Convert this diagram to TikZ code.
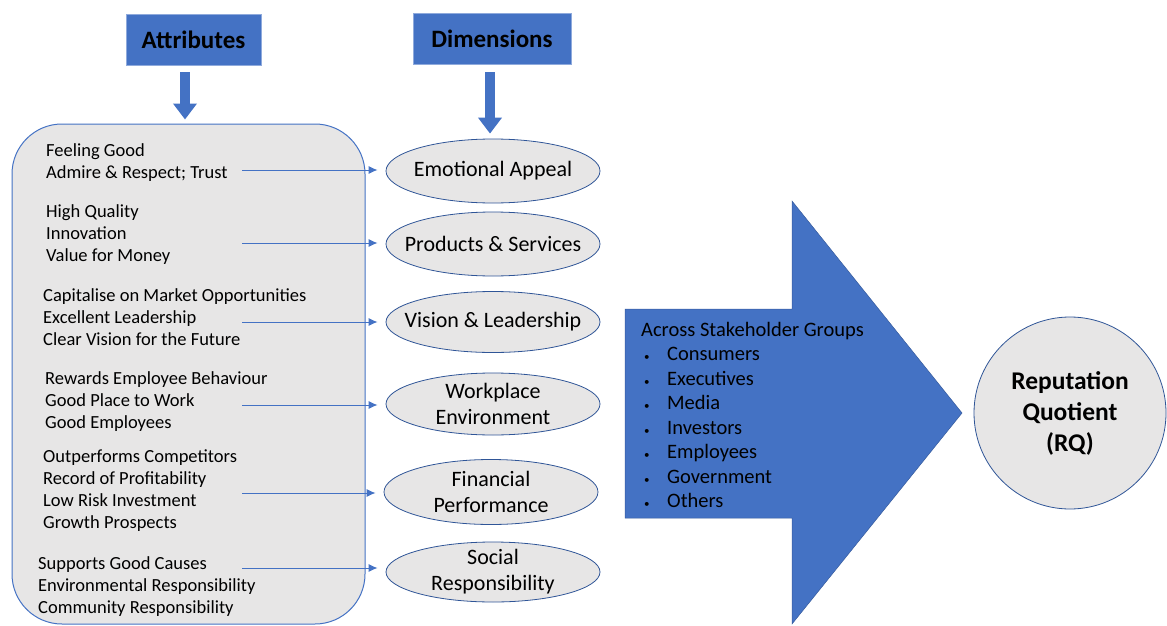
\documentclass[tikz,border=0pt]{standalone}
\usepackage{fontspec}
\setmainfont{Carlito}
\usetikzlibrary{shapes.geometric,arrows.meta}
\definecolor{blu}{HTML}{4472C4}
\definecolor{bdr}{HTML}{2F5597}
\definecolor{gry}{HTML}{E7E6E6}
\newcommand{\smallbul}{\makebox[26pt][l]{\hspace{3pt}{\fontsize{11}{11}\selectfont\textbullet}}}
\begin{document}
\begin{tikzpicture}[x=1pt,y=-1pt,
  hdr/.style={fill=blu, draw=blu!60!white, line width=0.8pt, minimum width=135pt, minimum height=51pt, inner sep=0pt, font=\fontsize{25}{28}\selectfont\bfseries},
  attrbox/.style={draw=blu, fill=gry, rounded corners=50pt, line width=1pt, minimum width=353pt, minimum height=500pt, inner sep=0pt},
  attrtxt/.style={anchor=base west, align=left, inner sep=0pt, font=\fontsize{18.5}{22}\selectfont},
  dimell/.style={ellipse, draw=bdr, fill=gry, line width=0.8pt, minimum width=214pt, minimum height=64pt, inner xsep=-40pt, inner ysep=-10pt, align=center, font=\fontsize{22}{26}\selectfont},
  conn/.style={draw=blu, line width=1pt, shorten >=8pt, -{Latex[length=9pt,width=8pt]}},
  blockarr/.style={draw=blu, line width=10pt, -{Triangle[width=23pt,length=16pt]}},
]
\useasboundingbox (0,0) rectangle (1167,626);

% headers
\node[hdr] (hA) at (193.5,39.5) {Attributes};
\node[hdr, minimum width=158pt] (hD) at (492,38.5) {Dimensions};

% attributes box
\node[attrbox] (attr) at (188.5,374) {};

% block arrows from headers
\draw[blockarr, shorten <=7pt, shorten >=4pt] (hA.south -| 185,0) -- (attr.north -| 185,0);
\node[dimell] (e1) at (493,171) {Emotional Appeal};
\draw[blockarr, shorten <=8pt, shorten >=5pt] (hD.south -| 490,0) -- (e1.north -| 490,0);

% attribute texts (anchored at the baseline of the last line)
\node[attrtxt] (t1) at (46,178) {Feeling Good\\Admire \& Respect; Trust};
\node[attrtxt] (t2) at (46,261) {High Quality\\Innovation\\Value for Money};
\node[attrtxt] (t3) at (43,345) {Capitalise on Market Opportunities\\Excellent Leadership\\Clear Vision for the Future};
\node[attrtxt] (t4) at (45,428) {Rewards Employee Behaviour\\Good Place to Work\\Good Employees};
\node[attrtxt] (t5) at (43,528) {Outperforms Competitors\\Record of Profitability\\Low Risk Investment\\Growth Prospects};
\node[attrtxt] (t6) at (38,613) {Supports Good Causes\\Environmental Responsibility\\Community Responsibility};

% dimension ellipses
\node[dimell] (e2) at (493,244) {Products \& Services};
\node[dimell, minimum height=61pt] (e3) at (493,322) {Vision \& Leadership};
\node[dimell, minimum height=62pt] (e4) at (493,404) {Workplace\\Environment};
\node[dimell, minimum height=65pt] (e5) at (491,492) {Financial\\Performance};
\node[dimell, minimum height=60pt] (e6) at (493,572) {Social\\Responsibility};

% connectors
\coordinate (c1) at (242,170);
\coordinate (c2) at (242,243);
\coordinate (c3) at (242,322);
\coordinate (c4) at (242,405);
\coordinate (c5) at (242,493);
\coordinate (c6) at (242,568);
\draw[conn] (c1) -- (c1 -| e1.west);
\draw[conn] (c2) -- (c2 -| e2.west);
\draw[conn] (c3) -- (c3 -| e3.west);
\draw[conn] (c4) -- (c4 -| e4.west);
\draw[conn] (c5) -- (c5 -| e5.west);
\draw[conn] (c6) -- (c6 -| e6.west);

% big arrow
\path[fill=blu, draw=blu!80!black, line width=0.5pt] (625,309) -- (792,309) -- (792,201) -- (962,413) -- (792,624) -- (792,518) -- (625,518) -- cycle;
\node[anchor=base west, align=left, inner sep=0pt, font=\fontsize{20.5}{24.5}\selectfont] (grp) at (641,507.5)
  {Across Stakeholder Groups\\
   \smallbul Consumers\\
   \smallbul Executives\\
   \smallbul Media\\
   \smallbul Investors\\
   \smallbul Employees\\
   \smallbul Government\\
   \smallbul Others};

% RQ circle
\node[circle, draw=bdr, fill=gry, line width=0.8pt, minimum size=192pt, inner sep=0pt, align=center, font=\fontsize{25.5}{31}\selectfont\bfseries] (rq) at (1070,413) {Reputation\\Quotient\\(RQ)};
\end{tikzpicture}
\end{document}
